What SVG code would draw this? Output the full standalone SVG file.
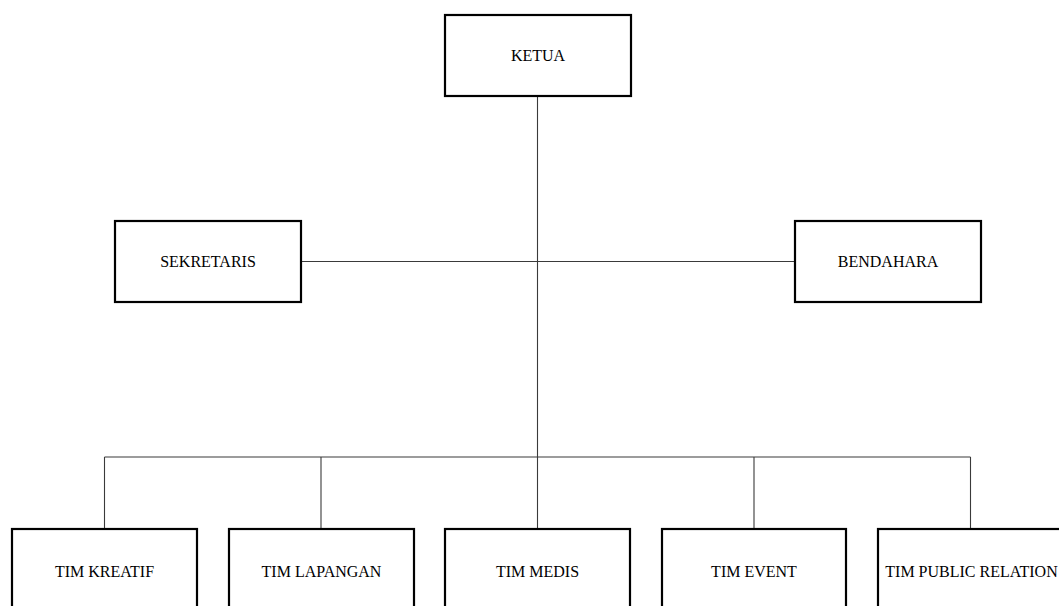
<svg xmlns="http://www.w3.org/2000/svg" width="1059" height="606" viewBox="0 0 1059 606">
  <style>
    .box { fill: #ffffff; stroke: #000000; stroke-width: 2.2; }
    .lbl { font-family: "Liberation Serif", "Times New Roman", serif; font-size: 16px; fill: #000000; text-anchor: middle; }
    .wire { fill: none; stroke: #3a3a3a; stroke-width: 1.1; }
  </style>
  <rect width="1059" height="606" fill="#ffffff"/>

  <!-- connectors -->
  <g id="connectors">
    <line class="wire" x1="537.5" y1="96" x2="537.5" y2="528"/>
    <line class="wire" x1="301" y1="261.5" x2="795" y2="261.5"/>
    <line class="wire" x1="104.5" y1="457" x2="970.5" y2="457"/>
    <line class="wire" x1="104.5" y1="457" x2="104.5" y2="528"/>
    <line class="wire" x1="321" y1="457" x2="321" y2="528"/>
    <line class="wire" x1="754" y1="457" x2="754" y2="528"/>
    <line class="wire" x1="970.5" y1="457" x2="970.5" y2="528"/>
  </g>

  <g id="ketua">
    <rect class="box" x="445" y="15" width="186" height="81"/>
    <text class="lbl" x="538" y="61">KETUA</text>
  </g>

  <g id="sekretaris">
    <rect class="box" x="115" y="221" width="186" height="81"/>
    <text class="lbl" x="208" y="267">SEKRETARIS</text>
  </g>

  <g id="bendahara">
    <rect class="box" x="795" y="221" width="186" height="81"/>
    <text class="lbl" x="888" y="267">BENDAHARA</text>
  </g>

  <g id="tim-kreatif">
    <rect class="box" x="12" y="529" width="185" height="90"/>
    <text class="lbl" x="104.5" y="577">TIM KREATIF</text>
  </g>

  <g id="tim-lapangan">
    <rect class="box" x="229" y="529" width="185" height="90"/>
    <text class="lbl" x="321.5" y="577">TIM LAPANGAN</text>
  </g>

  <g id="tim-medis">
    <rect class="box" x="445" y="529" width="185" height="90"/>
    <text class="lbl" x="537.5" y="577">TIM MEDIS</text>
  </g>

  <g id="tim-event">
    <rect class="box" x="662" y="529" width="184" height="90"/>
    <text class="lbl" x="754" y="577">TIM EVENT</text>
  </g>

  <g id="tim-public-relation">
    <rect class="box" x="878" y="529" width="186" height="90"/>
    <text class="lbl" x="971.5" y="577">TIM PUBLIC RELATION</text>
  </g>
</svg>
